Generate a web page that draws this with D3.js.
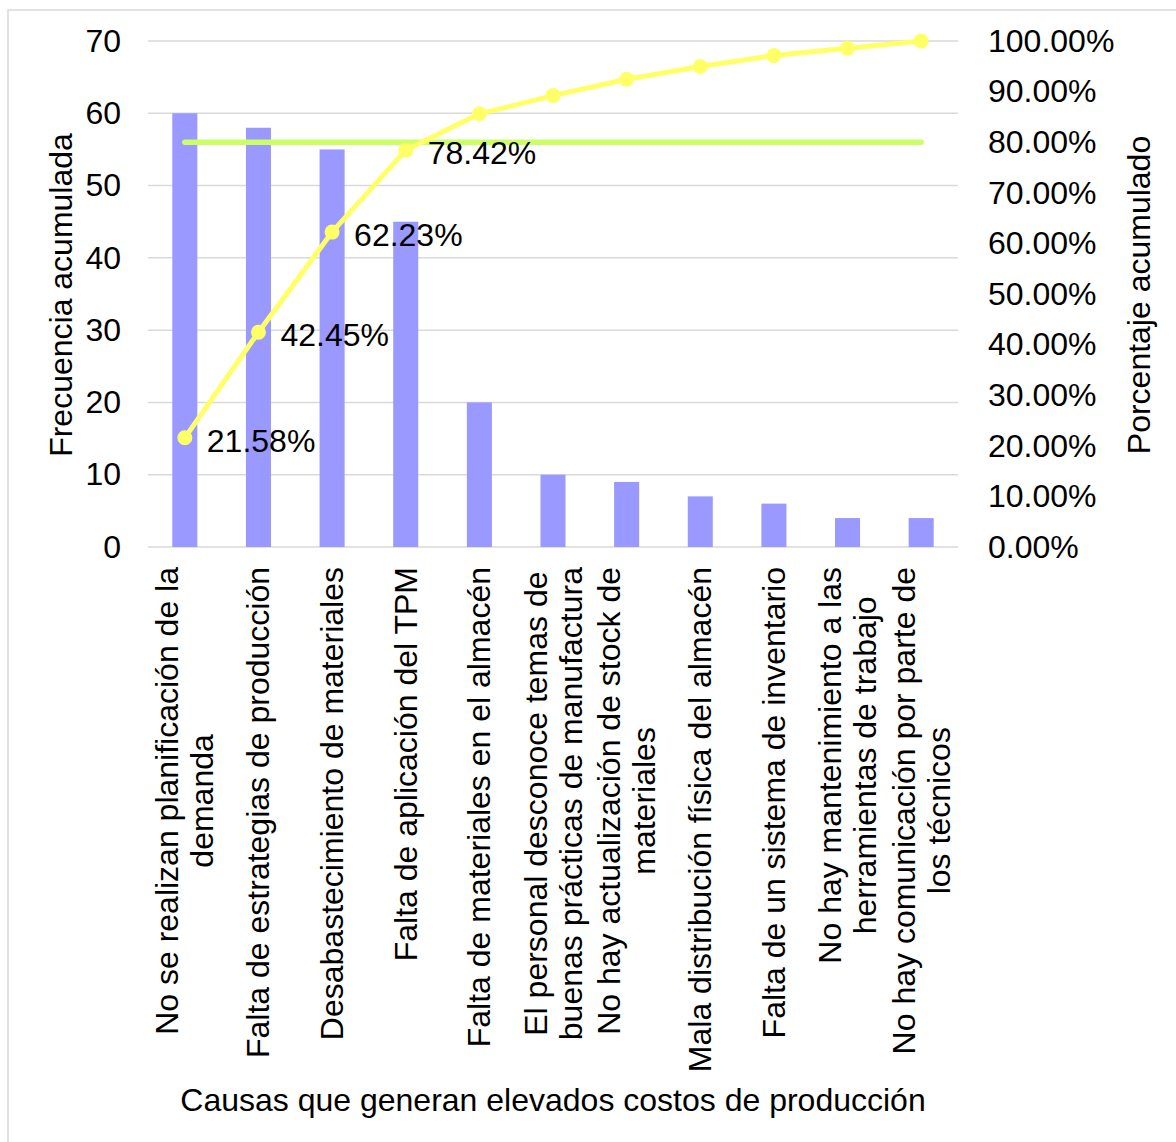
<!DOCTYPE html>
<html lang="es">
<head>
    <meta charset="UTF-8">
    <title>Diagrama de Pareto</title>
    <script src="https://d3js.org/d3.v7.min.js"></script>
    <style>
        body, html {
            margin: 0;
            padding: 0;
            background-color: #ffffff;
        }
        svg text {
            font-family: 'Liberation Sans', Arial, sans-serif;
            fill: #000000;
        }
    </style>
</head>
<body>
<svg id="chart" width="1176" height="1142"></svg>

<script>
    // Data
    const categories = [
        'No se realizan planificación de la demanda',
        'Falta de estrategias de producción',
        'Desabastecimiento de materiales',
        'Falta de aplicación del TPM',
        'Falta de materiales en el almacén',
        'El personal desconoce temas de buenas prácticas de manufactura',
        'No hay actualización de stock de materiales',
        'Mala distribución física del almacén',
        'Falta de un sistema de inventario',
        'No hay mantenimiento a las herramientas de trabajo',
        'No hay comunicación por parte de los técnicos'
    ];
    const frecuencia = [60, 58, 55, 45, 20, 10, 9, 7, 6, 4, 4];
    const porcentajeAcum = [21.58, 42.45, 62.23, 78.42, 85.61, 89.21, 92.45, 94.96, 97.12, 98.56, 100];
    const labeledPoints = 4;          // only first four points carry a label
    const referencia = 80;            // 80 % line
    const leftTicks = [0, 10, 20, 30, 40, 50, 60, 70];
    const rightTicks = [0, 10, 20, 30, 40, 50, 60, 70, 80, 90, 100];

    const fontSize = 32;
    const svg = d3.select('#chart');
    const plot = { left: 148, right: 958, top: 41, bottom: 547 };

    // outer chart border
    svg.append('rect')
        .attr('x', 8).attr('y', 10)
        .attr('width', 1200).attr('height', 1200)
        .attr('fill', 'none')
        .attr('stroke', '#d9d9d9')
        .attr('stroke-width', 1.5);

    const x = d3.scaleBand()
        .domain(d3.range(categories.length))
        .range([plot.left, plot.right])
        .paddingInner(0.66)
        .paddingOuter(0.33);
    const y = d3.scaleLinear().domain([0, 70]).range([plot.bottom, plot.top]);
    const yPct = d3.scaleLinear().domain([0, 100]).range([plot.bottom, plot.top]);
    const cx = i => x(i) + x.bandwidth() / 2;

    // gridlines
    svg.append('g')
        .selectAll('line')
        .data(leftTicks)
        .join('line')
        .attr('x1', plot.left).attr('x2', plot.right)
        .attr('y1', d => y(d)).attr('y2', d => y(d))
        .attr('stroke', '#d9d9d9')
        .attr('stroke-width', 1.5);

    // left axis labels
    const leftAxis = svg.append('g')
        .attr('transform', `translate(${plot.left},0)`)
        .call(d3.axisLeft(y).tickValues(leftTicks).tickSize(0).tickPadding(27));
    leftAxis.select('.domain').remove();
    leftAxis.selectAll('text')
        .style('font-size', fontSize + 'px')
        .style('font-family', "'Liberation Sans', Arial, sans-serif");

    // right axis labels
    const rightAxis = svg.append('g')
        .attr('transform', `translate(${plot.right},0)`)
        .call(d3.axisRight(yPct).tickValues(rightTicks).tickSize(0).tickPadding(30)
            .tickFormat(d => d.toFixed(2) + '%'));
    rightAxis.select('.domain').remove();
    rightAxis.selectAll('text')
        .style('font-size', fontSize + 'px')
        .style('font-family', "'Liberation Sans', Arial, sans-serif");

    // bars
    svg.append('g')
        .selectAll('rect')
        .data(frecuencia)
        .join('rect')
        .attr('x', (d, i) => x(i))
        .attr('width', x.bandwidth())
        .attr('y', d => y(d))
        .attr('height', d => y(0) - y(d))
        .attr('fill', '#9999ff');

    // 80% reference line
    svg.append('path')
        .datum(categories.map((c, i) => i))
        .attr('fill', 'none')
        .attr('stroke', '#ccff66')
        .attr('stroke-width', 5.5)
        .attr('stroke-linecap', 'round')
        .attr('d', d3.line().x(i => cx(i)).y(() => yPct(referencia)));

    // cumulative percentage line
    svg.append('path')
        .datum(porcentajeAcum)
        .attr('fill', 'none')
        .attr('stroke', '#ffff66')
        .attr('stroke-width', 5)
        .attr('stroke-linejoin', 'round')
        .attr('d', d3.line().x((d, i) => cx(i)).y(d => yPct(d)));

    svg.append('g')
        .selectAll('circle')
        .data(porcentajeAcum)
        .join('circle')
        .attr('cx', (d, i) => cx(i))
        .attr('cy', d => yPct(d))
        .attr('r', 7.5)
        .attr('fill', '#ffff66');

    // data labels
    svg.append('g')
        .selectAll('text')
        .data(porcentajeAcum.slice(0, labeledPoints))
        .join('text')
        .attr('x', (d, i) => cx(i) + 22)
        .attr('y', d => yPct(d) + 3)
        .attr('dominant-baseline', 'central')
        .style('font-size', fontSize + 'px')
        .text(d => d.toFixed(2) + '%');

    // category labels: rotated, wrapped, lines centred in the block
    const wrapWidth = 525;
    const lineH = 35;
    const labelTop = 567;
    categories.forEach((label, i) => {
        const g = svg.append('g')
            .attr('transform', `translate(${cx(i)},${labelTop}) rotate(-90)`);
        const probe = g.append('text').style('font-size', fontSize + 'px');
        const words = label.split(' ');
        const lines = [];
        let current = [];
        words.forEach(w => {
            const test = current.concat(w).join(' ');
            probe.text(test);
            if (probe.node().getComputedTextLength() > wrapWidth && current.length) {
                lines.push(current.join(' '));
                current = [w];
            } else {
                current.push(w);
            }
        });
        lines.push(current.join(' '));
        let maxW = 0;
        lines.forEach(l => {
            probe.text(l);
            maxW = Math.max(maxW, probe.node().getComputedTextLength());
        });
        probe.remove();
        lines.forEach((l, k) => {
            g.append('text')
                .attr('x', -maxW / 2)
                .attr('y', (k - (lines.length - 1) / 2) * lineH)
                .attr('text-anchor', 'middle')
                .attr('dominant-baseline', 'central')
                .style('font-size', fontSize + 'px')
                .text(l);
        });
    });

    // axis titles
    svg.append('text')
        .attr('transform', `translate(72,295) rotate(-90)`)
        .attr('text-anchor', 'middle')
        .style('font-size', fontSize + 'px')
        .text('Frecuencia acumulada');

    svg.append('text')
        .attr('transform', `translate(1150,295) rotate(-90)`)
        .attr('text-anchor', 'middle')
        .style('font-size', fontSize + 'px')
        .text('Porcentaje acumulado');

    svg.append('text')
        .attr('x', (plot.left + plot.right) / 2)
        .attr('y', 1111)
        .attr('text-anchor', 'middle')
        .style('font-size', fontSize + 'px')
        .text('Causas que generan elevados costos de producción');
</script>
</body>
</html>
